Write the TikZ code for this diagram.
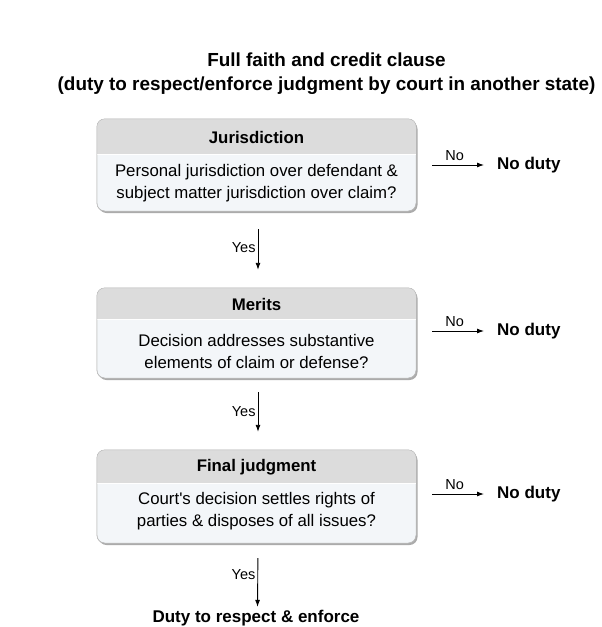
\documentclass[tikz,border=0pt]{standalone}
\usepackage{fontspec}
\setmainfont{Liberation Sans}
\usetikzlibrary{shadows,arrows.meta}
\definecolor{hdrgray}{HTML}{DCDCDC}
\definecolor{bodyblue}{HTML}{F3F6F9}
\definecolor{edgegray}{HTML}{B8B8B8}
\tikzset{
  box/.style={draw=edgegray, fill=bodyblue, rounded corners=8pt, minimum width=319pt,
    inner sep=0pt, drop shadow={shadow xshift=1.5pt, shadow yshift=-2pt, fill=black!60, opacity=0.55}},
  hdr/.style={font=\bfseries\fontsize{16.8}{20}\selectfont},
  txt/.style={align=center, font=\fontsize{16.8}{22}\selectfont},
  lbl/.style={font=\fontsize{14.5}{16}\selectfont, inner sep=2pt},
  res/.style={font=\bfseries\fontsize{17}{20}\selectfont, inner sep=0pt},
  arr/.style={-{Latex[length=7pt,width=5pt]}, line width=0.9pt}
}
\begin{document}
\begin{tikzpicture}[x=1pt,y=-1pt]
  \useasboundingbox (0,0) rectangle (602,627);
  % title
  \node[align=center, font=\bfseries\fontsize{18.9}{24}\selectfont] (title) at (326.5,74)
    {Full faith and credit clause\\(duty to respect/enforce judgment by court in another state)};
  % boxes
  \node[box, minimum height=92pt] (jur) at (256.5,165) {};
  \node[box, minimum height=90pt] (mer) at (256.5,333) {};
  \node[box, minimum height=93pt] (fin) at (256.5,496.5) {};
  % header bands
  \foreach \b/\h in {jur/36, mer/32, fin/34} {
    \begin{scope}
      \clip[rounded corners=8pt] (\b.north west) rectangle (\b.south east);
      \fill[hdrgray] (\b.north west) rectangle ([yshift=-\h pt]\b.north east);
      \draw[white, line width=0.8pt] ([yshift=-\h pt]\b.north west) -- ([yshift=-\h pt]\b.north east);
    \end{scope}
    \draw[edgegray, rounded corners=8pt] (\b.north west) rectangle (\b.south east);
  }
  % texts
  \node[hdr] (jurhd) at (256.5,137) {Jurisdiction};
  \node[txt] (jurtx) at (256.5,183) {Personal jurisdiction over defendant \&\\subject matter jurisdiction over claim?};
  \node[hdr] (merhd) at (256.5,304) {Merits};
  \node[txt] (mertx) at (256.5,351) {Decision addresses substantive\\elements of claim or defense?};
  \node[hdr] (finhd) at (256.5,467) {Final judgment};
  \node[txt] (fintx) at (256.5,511) {Court\textquotesingle s decision settles rights of\\parties \& disposes of all issues?};
  % results
  \node[res, anchor=west] (nd1) at (497,165) {No duty};
  \node[res, anchor=west] (nd2) at (497,331) {No duty};
  \node[res, anchor=west] (nd3) at (497,494) {No duty};
  \node[res] (duty) at (256,618) {Duty to respect \& enforce};
  % no arrows
  \draw[arr, shorten <=16pt, shorten >=13pt] (jur.east |- nd1) -- (nd1.west) node[lbl, midway, above, yshift=2pt, xshift=-2pt] {No};
  \draw[arr, shorten <=16pt, shorten >=13pt] (mer.east |- nd2) -- (nd2.west) node[lbl, midway, above, yshift=2pt, xshift=-2pt] {No};
  \draw[arr, shorten <=16pt, shorten >=13pt] (fin.east |- nd3) -- (nd3.west) node[lbl, midway, above, yshift=2pt, xshift=-2pt] {No};
  % yes arrows
  \draw[arr, shorten <=18pt, shorten >=18pt] ([xshift=1.5pt]jur.south) -- ([xshift=1.5pt]mer.north) node[lbl, pos=0.47, left] {Yes};
  \draw[arr, shorten <=14pt, shorten >=18pt] ([xshift=1.5pt]mer.south) -- ([xshift=1.5pt]fin.north) node[lbl, pos=0.47, left] {Yes};
  \draw[arr, shorten <=15pt, shorten >=3pt] ([xshift=1.5pt]fin.south) -- ([xshift=1.5pt]duty.north) node[lbl, pos=0.47, left] {Yes};
\end{tikzpicture}
\end{document}
